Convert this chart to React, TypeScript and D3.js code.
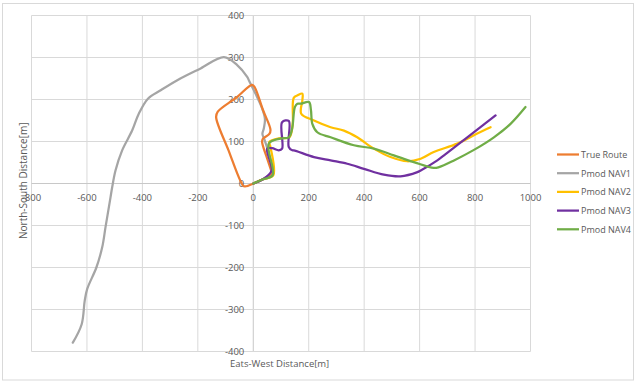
import React, { useEffect, useRef } from 'react';
import * as d3 from 'd3';

// values: [east-west, north-south] in metres
const trueRoute: [number, number][] = [
  [68, 24], [40, 12], [5, 1], [-30, -7], [-38, -4], [-90, 80], [-134, 158], [-128, 171],
  [-60, 205], [-4, 235], [6, 228], [35, 175], [62, 128], [58, 118], [34, 106], [32, 98],
  [50, 60], [68, 24]
];
const nav1: [number, number][] = [
  [0, 0], [35, 10], [68, 20], [56, 71], [40, 105], [33, 118], [38, 131], [42, 154],
  [30, 182], [8, 214], [-16, 246], [-22, 254], [-58, 282], [-106, 301], [-190, 274],
  [-274, 246], [-334, 222], [-380, 202], [-413, 166], [-437, 126], [-473, 79], [-497, 31],
  [-509, -9], [-515, -33], [-533, -104], [-545, -152], [-566, -200], [-599, -251],
  [-608, -279], [-619, -335], [-651, -379]
];
const nav2: [number, number][] = [
  [0, 0], [35, 10], [72, 19], [62, 87], [58, 99], [98, 108], [130, 110], [142, 140],
  [146, 204], [160, 210], [177, 214], [177, 198], [173, 166], [219, 150], [279, 134],
  [327, 126], [375, 110], [435, 83], [495, 63], [555, 53], [604, 59], [651, 75], [736, 95],
  [808, 119], [856, 134]
];
const nav3: [number, number][] = [
  [0, 0], [35, 10], [66, 31], [50, 83], [68, 84], [92, 79], [104, 83], [104, 146],
  [128, 149], [128, 87], [141, 79], [146, 79], [219, 63], [279, 55], [339, 47], [399, 35],
  [471, 21], [531, 17], [592, 27], [604, 31], [664, 55], [688, 67], [772, 110], [874, 162]
];
const nav4: [number, number][] = [
  [0, 0], [35, 10], [70, 20], [56, 95], [98, 107], [128, 110], [140, 130], [150, 182],
  [159, 190], [171, 190], [201, 194], [208, 175], [213, 142], [231, 122], [279, 110],
  [363, 91], [435, 83], [507, 67], [579, 51], [651, 37], [670, 39], [724, 55], [796, 80],
  [868, 110], [928, 142], [982, 182]
];

const seriesNames = ['True Route', 'Pmod NAV1', 'Pmod NAV2', 'Pmod NAV3', 'Pmod NAV4'];
const seriesData = [trueRoute, nav1, nav2, nav3, nav4];
const seriesColors = ['#ED7D31', '#A5A5A5', '#FFC000', '#7030A0', '#70AD47'];
const xTicks = [-800, -600, -400, -200, 0, 200, 400, 600, 800, 1000];
const yTicks = [-400, -300, -200, -100, 0, 100, 200, 300, 400];

const App = () => {
  const svgRef = useRef<SVGSVGElement>(null);

  useEffect(() => {
    const svg = d3.select(svgRef.current);
    svg.selectAll('*').remove();

    const font = "'Open Sans', 'Liberation Sans', sans-serif";

    // chart frame
    svg.append('rect')
      .attr('x', 2.5).attr('y', 3.5).attr('width', 631).attr('height', 376.5)
      .attr('fill', '#fff').attr('stroke', '#d9d9d9');

    const x = d3.scaleLinear().domain([-800, 1000]).range([31.5, 530.5]);
    const y = d3.scaleLinear().domain([-400, 400]).range([351.5, 15.5]);

    // grid
    svg.append('g').selectAll('line').data(xTicks).enter().append('line')
      .attr('x1', d => x(d)).attr('x2', d => x(d))
      .attr('y1', y(400)).attr('y2', y(-400))
      .attr('stroke', d => d === 0 ? '#c8c8c8' : '#d9d9d9').attr('stroke-width', 1);
    svg.append('g').selectAll('line').data(yTicks).enter().append('line')
      .attr('y1', d => y(d)).attr('y2', d => y(d))
      .attr('x1', x(-800)).attr('x2', x(1000))
      .attr('stroke', d => d === 0 ? '#c8c8c8' : '#d9d9d9').attr('stroke-width', 1);

    // tick labels
    svg.append('g').selectAll('text').data(xTicks).enter().append('text')
      .attr('x', d => x(d)).attr('y', y(0) + 17)
      .attr('text-anchor', 'middle')
      .attr('font-family', font).attr('font-size', 9.5).attr('fill', '#595959')
      .text(d => d);
    svg.append('g').selectAll('text').data(yTicks).enter().append('text')
      .attr('x', x(0) - 9).attr('y', d => y(d) + 3)
      .attr('text-anchor', 'end')
      .attr('font-family', font).attr('font-size', 9.5).attr('fill', '#595959')
      .text(d => d);

    // axis titles
    svg.append('text')
      .attr('x', 230).attr('y', 367)
      .attr('font-family', font).attr('font-size', 9.5).attr('fill', '#595959')
      .text('Eats-West Distance[m]');
    svg.append('text')
      .attr('transform', 'translate(27,239) rotate(-90)')
      .attr('font-family', font).attr('font-size', 10).attr('fill', '#595959')
      .text('North-South Distance[m]');

    // lines
    const line = d3.line<[number, number]>()
      .x(d => x(d[0])).y(d => y(d[1]))
      .curve(d3.curveCatmullRom.alpha(0.5));

    const order = [1, 0, 2, 3, 4];
    order.forEach(i => {
      svg.append('path')
        .datum(seriesData[i])
        .attr('d', line)
        .attr('fill', 'none')
        .attr('stroke', seriesColors[i])
        .attr('stroke-width', 2.25)
        .attr('stroke-linejoin', 'round')
        .attr('stroke-linecap', 'round');
    });

    // legend
    const legend = svg.append('g');
    seriesNames.forEach((name, i) => {
      const ly = 154.5 + i * 18.7;
      legend.append('line')
        .attr('x1', 557).attr('x2', 579).attr('y1', ly).attr('y2', ly)
        .attr('stroke', seriesColors[i]).attr('stroke-width', 2.25);
      legend.append('text')
        .attr('x', 581).attr('y', ly + 3.3)
        .attr('font-family', font).attr('font-size', 9).attr('fill', '#595959')
        .text(name);
    });
  }, []);

  return (
    <div style={{ position: 'absolute', left: 0, top: 0 }}>
      <svg ref={svgRef} width={636} height={381} />
    </div>
  );
};

export default App;
